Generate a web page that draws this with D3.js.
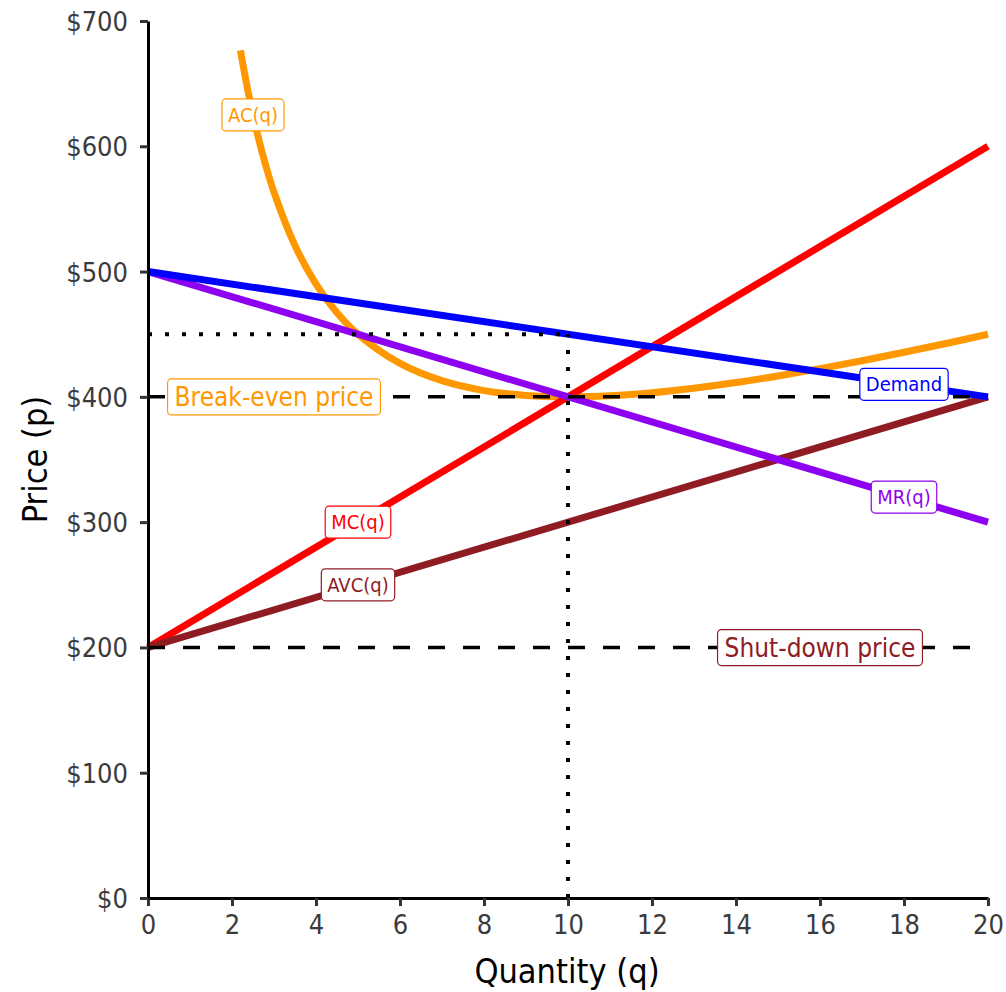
<!DOCTYPE html>
<html><head><meta charset="utf-8">
<script src="https://cdn.jsdelivr.net/npm/d3@7"></script>
<style>
html,body{margin:0;padding:0;background:#fff;}
svg{display:block;}
text{font-family:"Liberation Sans Narrow","DejaVu Sans Condensed",sans-serif;}
</style></head>
<body>
<div id="chart"></div>
<script>
// ---- data ----
const xTicks = [0,2,4,6,8,10,12,14,16,18,20];
const yTicks = [0,100,200,300,400,500,600,700];
const acQ   = [2.2,2.4,2.6,2.8,3,3.5,4,4.5,5,6,7,8,9,10,11,12,13,14,15,16,17,18,19,20];
const acP   = [676.5,640.7,610.6,585.1,563.3,520.7,490,467.2,450,426.7,412.9,405,401.1,400,400.9,403.3,406.9,411.4,416.7,422.5,428.8,435.6,442.6,450];
const lineQ = [0,20];
const mcP   = [200,600];
const avcP  = [200,400];
const demandP = [500,400];
const mrP   = [500,300];
const breakEven = 400;
const shutDown = 200;
const dotPrice = 450;
const dotQ = 10;
const labels = [
  {text:"AC(q)", q:2.5, p:625, color:"#ff9800", size:20},
  {text:"MC(q)", q:5, p:300, color:"#ff0000", size:20},
  {text:"AVC(q)", q:5, p:250, color:"#8f1b23", size:20},
  {text:"Demand", q:18, p:410, color:"#0000ff", size:20},
  {text:"MR(q)", q:18, p:320, color:"#8e00f0", size:20},
  {text:"Break-even price", q:3, p:400, color:"#ff9800", size:26},
  {text:"Shut-down price", q:16, p:200, color:"#8f1b23", size:26}
];

// ---- layout ----
const W=1006,H=992;
const svg=d3.select("#chart").append("svg").attr("width",W).attr("height",H);
const x=d3.scaleLinear().domain([0,20]).range([148,988]);
const y=d3.scaleLinear().domain([0,700]).range([898,21]);

const line=d3.line().x(d=>x(d[0])).y(d=>y(d[1]));
const curve=d3.line().x(d=>x(d[0])).y(d=>y(d[1])).curve(d3.curveCatmullRom);

const series=[
  {pts:acQ.map((q,i)=>[q,acP[i]]), color:"#ff9800", gen:curve},
  {pts:lineQ.map((q,i)=>[q,mcP[i]]), color:"#ff0000", gen:line},
  {pts:lineQ.map((q,i)=>[q,avcP[i]]), color:"#8f1b23", gen:line},
  {pts:lineQ.map((q,i)=>[q,mrP[i]]), color:"#8e00f0", gen:line},
  {pts:lineQ.map((q,i)=>[q,demandP[i]]), color:"#0000ff", gen:line}
];
series.forEach(s=>{
  svg.append("path").attr("d",s.gen(s.pts)).attr("fill","none")
    .attr("stroke",s.color).attr("stroke-width",7);
});

// reference lines
[breakEven,shutDown].forEach(p=>{
  svg.append("line").attr("x1",x(0)).attr("x2",x(20)).attr("y1",y(p)).attr("y2",y(p))
    .attr("stroke","#000").attr("stroke-width",3.5).attr("stroke-dasharray","17,18");
});
svg.append("line").attr("x1",x(0)).attr("x2",x(dotQ)).attr("y1",y(dotPrice)).attr("y2",y(dotPrice))
  .attr("stroke","#000").attr("stroke-width",4).attr("stroke-dasharray","4,13");
svg.append("line").attr("x1",x(dotQ)).attr("x2",x(dotQ)).attr("y1",y(0)).attr("y2",y(dotPrice))
  .attr("stroke","#000").attr("stroke-width",4).attr("stroke-dasharray","4,13");

// axes
const xAxis=svg.append("g").attr("transform",`translate(0,${y(0)})`)
  .call(d3.axisBottom(x).tickValues(xTicks).tickSize(8).tickSizeOuter(0).tickPadding(9));
const yAxis=svg.append("g").attr("transform",`translate(${x(0)},0)`)
  .call(d3.axisLeft(y).tickValues(yTicks).tickFormat(d=>"$"+d).tickSize(8).tickSizeOuter(0).tickPadding(12));
[xAxis,yAxis].forEach(g=>{
  g.select(".domain").attr("stroke","#000").attr("stroke-width",3);
  g.selectAll(".tick line").attr("stroke","#333").attr("stroke-width",3);
  g.selectAll(".tick text").attr("fill","#3b3b3b").attr("font-size",27)
    .style("font-family",'"Liberation Sans Narrow","DejaVu Sans Condensed",sans-serif');
});
yAxis.selectAll(".tick text").attr("dy","0.35em");

svg.append("text").attr("x",567).attr("y",983).attr("text-anchor","middle")
  .attr("font-size",34).attr("fill","#000").text("Quantity (q)");
svg.append("text").attr("transform",`translate(47,${(21+898)/2}) rotate(-90)`)
  .attr("text-anchor","middle").attr("font-size",34).attr("fill","#000").text("Price (p)");

// labels
labels.forEach(l=>{
  const g=svg.append("g").attr("transform",`translate(${x(l.q)},${y(l.p)})`);
  const rect=g.append("rect");
  const t=g.append("text").attr("text-anchor","middle").attr("dy","0.35em")
    .attr("font-size",l.size).attr("fill",l.color).text(l.text);
  const bb=t.node().getBBox();
  const px=l.size>22?7:6, py=l.size>22?3:4;
  rect.attr("x",bb.x-px).attr("y",bb.y-py).attr("width",bb.width+2*px).attr("height",bb.height+2*py)
    .attr("rx",4).attr("fill","#fff").attr("stroke",l.color).attr("stroke-width",1.2);
});
</script>
</body></html>
